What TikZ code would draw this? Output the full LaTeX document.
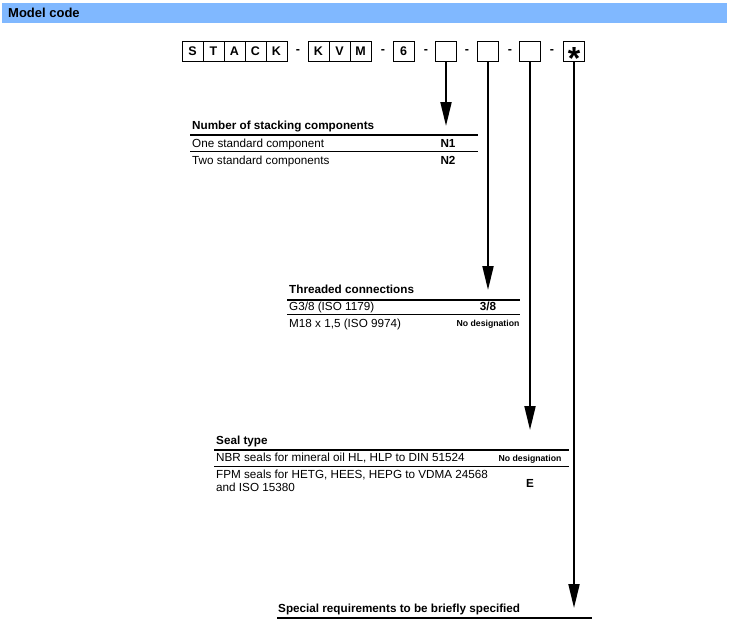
\documentclass[tikz,border=0pt]{standalone}
\usepackage{fontspec}
\setmainfont{Liberation Sans}
\usetikzlibrary{arrows.meta}
\definecolor{barblue}{RGB}{128,184,255}
\tikzset{
  codebox/.style={draw,line width=1pt,minimum width=21pt,minimum height=20pt,
    inner sep=0pt,font=\fontsize{12.5}{12}\selectfont\bfseries},
  codedash/.style={inner sep=0pt,font=\fontsize{12.5}{12}\selectfont\bfseries},
  tabtitle/.style={anchor=base west,inner sep=0pt,font=\fontsize{11.7}{14}\selectfont\bfseries},
  tabtext/.style={anchor=base west,inner sep=0pt,font=\fontsize{11.7}{14}\selectfont},
  tabcode/.style={anchor=base,inner sep=0pt,font=\fontsize{11.7}{14}\selectfont\bfseries},
  tabnone/.style={anchor=base,inner sep=0pt,font=\fontsize{8.7}{10}\selectfont\bfseries},
  headrule/.style={line width=1.6pt},
  rowrule/.style={line width=0.8pt},
  codearrow/.style={line width=2pt,-{Triangle[length=24pt,width=11pt]}}
}
\begin{document}
\begin{tikzpicture}[x=1pt,y=-1pt]
  \useasboundingbox (0,0) rectangle (730,629);
  % title bar
  \fill[barblue] (2,3) rectangle (727,23);
  \node[tabtitle,font=\fontsize{13}{14}\selectfont\bfseries] (head) at (8,17.5) {Model code};
  % model code
  \draw
    (192.5,51) node[codebox] (s){S}
    (213.5,51) node[codebox] (t){T}
    (234.5,51) node[codebox] (a){A}
    (255.5,51) node[codebox] (c){C}
    (276.5,51) node[codebox] (k){K}
    (298,52) node[codedash] (d1){-}
    (318.5,51) node[codebox] (kk){K}
    (339.5,51) node[codebox] (v){V}
    (360.5,51) node[codebox] (m){M}
    (383,52) node[codedash] (d2){-}
    (403.5,51) node[codebox] (six){6}
    (426,52) node[codedash] (d3){-}
    (446,51) node[codebox] (box1){}
    (467,52) node[codedash] (d4){-}
    (488,51) node[codebox] (box2){}
    (510,52) node[codedash] (d5){-}
    (530,51) node[codebox] (box3){}
    (552,52) node[codedash] (d6){-}
    (574,51) node[codebox] (box4){}
    (574,58) node[inner sep=0pt,font=\fontsize{32}{32}\selectfont\bfseries] (star){*};
  % number of stacking components
  \draw
    (192,129.5) node[tabtitle] (stack){Number of stacking components}
    (192,147) node[tabtext] (stack1){One standard component}
    (192,164) node[tabtext] (stack2){Two standard components}
    (448,147) node[tabcode] (n1){N1}
    (448,164) node[tabcode] (n2){N2};
  \draw[headrule] (190,135) -- (478,135);
  \draw[rowrule] (190,151) -- (478,151);
  % threaded connections
  \draw
    (289,293.5) node[tabtitle] (thread){Threaded connections}
    (289,310.5) node[tabtext] (thread1){G3/8 (ISO 1179)}
    (289,327) node[tabtext] (thread2){M18 x 1,5 (ISO 9974)}
    (488,310.5) node[tabcode] (g38){3/8}
    (488,326.5) node[tabnone] (nodes1){No designation};
  \draw[headrule] (287,300) -- (520,300);
  \draw[rowrule] (287,314.5) -- (520,314.5);
  % seal type
  \draw
    (216,444.5) node[tabtitle] (seal){Seal type}
    (216,461.5) node[tabtext] (seal1){NBR seals for mineral oil HL, HLP to DIN 51524}
    (216,478) node[tabtext] (seal2){FPM seals for HETG, HEES, HEPG to VDMA 24568}
    (216,491) node[tabtext] (seal3){and ISO 15380}
    (530,461.5) node[tabnone] (nodes2){No designation}
    (530,487) node[tabcode] (e){E};
  \draw[headrule] (214,450) -- (569,450);
  \draw[rowrule] (214,466) -- (569,466);
  % special requirements
  \node[tabtitle] (special) at (278,612) {Special requirements to be briefly specified};
  \draw[headrule] (277,618) -- (592,618);
  % arrows
  \coordinate (tip1) at (446,126);
  \coordinate (tip2) at (488,290);
  \coordinate (tip3) at (530,430);
  \coordinate (tip4) at (574,608);
  \begin{scope}[codearrow]
    \draw (box1) -- (tip1);
    \draw (box2) -- (tip2);
    \draw (box3) -- (tip3);
    \draw (box4) -- (tip4);
  \end{scope}
\end{tikzpicture}
\end{document}
